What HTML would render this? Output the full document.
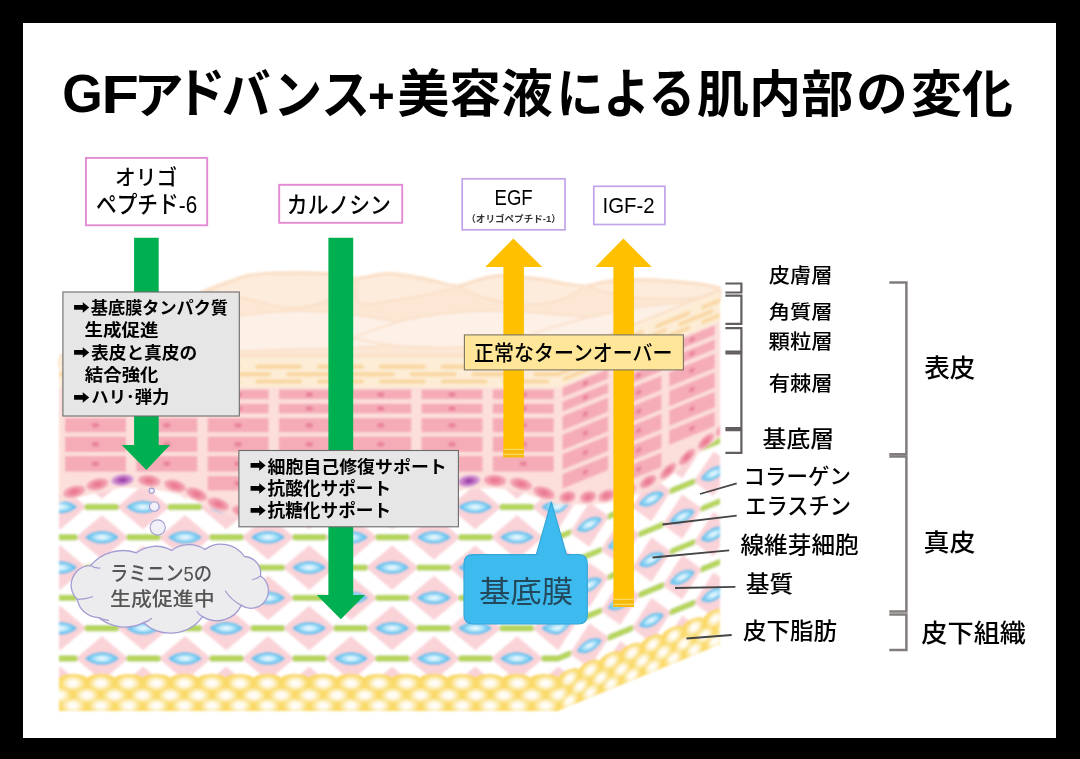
<!DOCTYPE html>
<html lang="ja">
<head>
<meta charset="utf-8">
<title>GFアドバンス+美容液による肌内部の変化</title>
<style>
html,body{margin:0;padding:0;background:#000}
body{width:1080px;height:759px;overflow:hidden}
svg{display:block}
text{font-family:"Liberation Sans","Noto Sans CJK JP",sans-serif;fill:#000}
.b{font-weight:bold}
</style>
</head>
<body>
<svg width="1080" height="759" viewBox="0 0 1080 759">
<defs>
<radialGradient id="lens" cx="0.5" cy="0.5" r="0.5"><stop offset="0" stop-color="#F4FBFF"/><stop offset="0.3" stop-color="#CDEEFC"/><stop offset="0.75" stop-color="#6FC8F0"/><stop offset="1" stop-color="#4FB2E6"/></radialGradient>
<radialGradient id="bc" cx="0.5" cy="0.5" r="0.5"><stop offset="0" stop-color="#E96C86"/><stop offset="0.5" stop-color="#EF8EA1"/><stop offset="1" stop-color="#F6B6C1"/></radialGradient>
<radialGradient id="bcp" cx="0.5" cy="0.5" r="0.5"><stop offset="0" stop-color="#8E2C9C"/><stop offset="0.45" stop-color="#B867BE"/><stop offset="1" stop-color="#E3B3DF"/></radialGradient>
<radialGradient id="fb" cx="0.5" cy="0.5" r="0.5"><stop offset="0" stop-color="#FFFFFF" stop-opacity="1"/><stop offset="0.35" stop-color="#FFFFFF" stop-opacity="0.9"/><stop offset="1" stop-color="#FFFFFF" stop-opacity="0"/></radialGradient>
<filter id="sb" x="-0.02" y="-0.02" width="1.04" height="1.04"><feGaussianBlur stdDeviation="0.8"/></filter>
<filter id="sb2" x="-0.02" y="-0.1" width="1.04" height="1.2"><feGaussianBlur stdDeviation="1.2"/></filter>
<clipPath id="cf"><rect x="59" y="340" width="499.5" height="371"/></clipPath>
<clipPath id="cs"><polygon points="558,340 720,273.6 720,644.6 558,711"/></clipPath>
<g id="skin"><rect x="40" y="358" width="760" height="34" fill="#FDEDD6"/><rect x="-115.6" y="364.4" width="47" height="4.6" rx="2.3" fill="#F9D8A4"/><rect x="-53.8" y="364.4" width="47" height="4.6" rx="2.3" fill="#F9D8A4"/><rect x="8" y="364.4" width="47" height="4.6" rx="2.3" fill="#F9D8A4"/><rect x="69.8" y="364.4" width="47" height="4.6" rx="2.3" fill="#F9D8A4"/><rect x="131.6" y="364.4" width="47" height="4.6" rx="2.3" fill="#F9D8A4"/><rect x="193.4" y="364.4" width="47" height="4.6" rx="2.3" fill="#F9D8A4"/><rect x="255.2" y="364.4" width="47" height="4.6" rx="2.3" fill="#F9D8A4"/><rect x="317" y="364.4" width="47" height="4.6" rx="2.3" fill="#F9D8A4"/><rect x="378.8" y="364.4" width="47" height="4.6" rx="2.3" fill="#F9D8A4"/><rect x="440.6" y="364.4" width="47" height="4.6" rx="2.3" fill="#F9D8A4"/><rect x="502.4" y="364.4" width="47" height="4.6" rx="2.3" fill="#F9D8A4"/><rect x="564.2" y="364.4" width="47" height="4.6" rx="2.3" fill="#F9D8A4"/><rect x="626" y="364.4" width="47" height="4.6" rx="2.3" fill="#F9D8A4"/><rect x="687.8" y="364.4" width="47" height="4.6" rx="2.3" fill="#F9D8A4"/><rect x="749.6" y="364.4" width="47" height="4.6" rx="2.3" fill="#F9D8A4"/><rect x="-84.7" y="371.9" width="47" height="4.6" rx="2.3" fill="#F9D8A4"/><rect x="-22.9" y="371.9" width="47" height="4.6" rx="2.3" fill="#F9D8A4"/><rect x="38.9" y="371.9" width="47" height="4.6" rx="2.3" fill="#F9D8A4"/><rect x="100.7" y="371.9" width="47" height="4.6" rx="2.3" fill="#F9D8A4"/><rect x="162.5" y="371.9" width="47" height="4.6" rx="2.3" fill="#F9D8A4"/><rect x="224.3" y="371.9" width="47" height="4.6" rx="2.3" fill="#F9D8A4"/><rect x="286.1" y="371.9" width="47" height="4.6" rx="2.3" fill="#F9D8A4"/><rect x="347.9" y="371.9" width="47" height="4.6" rx="2.3" fill="#F9D8A4"/><rect x="409.7" y="371.9" width="47" height="4.6" rx="2.3" fill="#F9D8A4"/><rect x="471.5" y="371.9" width="47" height="4.6" rx="2.3" fill="#F9D8A4"/><rect x="533.3" y="371.9" width="47" height="4.6" rx="2.3" fill="#F9D8A4"/><rect x="595.1" y="371.9" width="47" height="4.6" rx="2.3" fill="#F9D8A4"/><rect x="656.9" y="371.9" width="47" height="4.6" rx="2.3" fill="#F9D8A4"/><rect x="718.7" y="371.9" width="47" height="4.6" rx="2.3" fill="#F9D8A4"/><rect x="-115.6" y="379.2" width="47" height="4.6" rx="2.3" fill="#F9D8A4"/><rect x="-53.8" y="379.2" width="47" height="4.6" rx="2.3" fill="#F9D8A4"/><rect x="8" y="379.2" width="47" height="4.6" rx="2.3" fill="#F9D8A4"/><rect x="69.8" y="379.2" width="47" height="4.6" rx="2.3" fill="#F9D8A4"/><rect x="131.6" y="379.2" width="47" height="4.6" rx="2.3" fill="#F9D8A4"/><rect x="193.4" y="379.2" width="47" height="4.6" rx="2.3" fill="#F9D8A4"/><rect x="255.2" y="379.2" width="47" height="4.6" rx="2.3" fill="#F9D8A4"/><rect x="317" y="379.2" width="47" height="4.6" rx="2.3" fill="#F9D8A4"/><rect x="378.8" y="379.2" width="47" height="4.6" rx="2.3" fill="#F9D8A4"/><rect x="440.6" y="379.2" width="47" height="4.6" rx="2.3" fill="#F9D8A4"/><rect x="502.4" y="379.2" width="47" height="4.6" rx="2.3" fill="#F9D8A4"/><rect x="564.2" y="379.2" width="47" height="4.6" rx="2.3" fill="#F9D8A4"/><rect x="626" y="379.2" width="47" height="4.6" rx="2.3" fill="#F9D8A4"/><rect x="687.8" y="379.2" width="47" height="4.6" rx="2.3" fill="#F9D8A4"/><rect x="749.6" y="379.2" width="47" height="4.6" rx="2.3" fill="#F9D8A4"/><rect x="40" y="387.5" width="760" height="150" fill="#FCDFDA"/><rect x="-6.3" y="389.6" width="61" height="9.6" fill="#F5ACB7"/><ellipse cx="24.2" cy="394.4" rx="3.8" ry="2.5" fill="#E9849B"/><rect x="-6.3" y="403.7" width="61" height="9.7" fill="#F5ACB7"/><ellipse cx="24.2" cy="408.55" rx="3.8" ry="2.5" fill="#E9849B"/><rect x="-6.3" y="418" width="61" height="14.3" fill="#F5ACB7"/><ellipse cx="24.2" cy="425.15" rx="3.8" ry="2.5" fill="#E9849B"/><rect x="-6.3" y="436.6" width="61" height="15.4" fill="#F5ACB7"/><ellipse cx="24.2" cy="444.3" rx="3.8" ry="2.5" fill="#E9849B"/><rect x="-6.3" y="456" width="61" height="15.6" fill="#F5ACB7"/><ellipse cx="24.2" cy="463.8" rx="3.8" ry="2.5" fill="#E9849B"/><rect x="65" y="389.6" width="61" height="9.6" fill="#F5ACB7"/><ellipse cx="95.5" cy="394.4" rx="3.8" ry="2.5" fill="#E9849B"/><rect x="65" y="403.7" width="61" height="9.7" fill="#F5ACB7"/><ellipse cx="95.5" cy="408.55" rx="3.8" ry="2.5" fill="#E9849B"/><rect x="65" y="418" width="61" height="14.3" fill="#F5ACB7"/><ellipse cx="95.5" cy="425.15" rx="3.8" ry="2.5" fill="#E9849B"/><rect x="65" y="436.6" width="61" height="15.4" fill="#F5ACB7"/><ellipse cx="95.5" cy="444.3" rx="3.8" ry="2.5" fill="#E9849B"/><rect x="65" y="456" width="61" height="15.6" fill="#F5ACB7"/><ellipse cx="95.5" cy="463.8" rx="3.8" ry="2.5" fill="#E9849B"/><rect x="136.3" y="389.6" width="61" height="9.6" fill="#F5ACB7"/><ellipse cx="166.8" cy="394.4" rx="3.8" ry="2.5" fill="#E9849B"/><rect x="136.3" y="403.7" width="61" height="9.7" fill="#F5ACB7"/><ellipse cx="166.8" cy="408.55" rx="3.8" ry="2.5" fill="#E9849B"/><rect x="136.3" y="418" width="61" height="14.3" fill="#F5ACB7"/><ellipse cx="166.8" cy="425.15" rx="3.8" ry="2.5" fill="#E9849B"/><rect x="136.3" y="436.6" width="61" height="15.4" fill="#F5ACB7"/><ellipse cx="166.8" cy="444.3" rx="3.8" ry="2.5" fill="#E9849B"/><rect x="136.3" y="456" width="61" height="15.6" fill="#F5ACB7"/><ellipse cx="166.8" cy="463.8" rx="3.8" ry="2.5" fill="#E9849B"/><rect x="207.6" y="389.6" width="61" height="9.6" fill="#F5ACB7"/><ellipse cx="238.1" cy="394.4" rx="3.8" ry="2.5" fill="#E9849B"/><rect x="207.6" y="403.7" width="61" height="9.7" fill="#F5ACB7"/><ellipse cx="238.1" cy="408.55" rx="3.8" ry="2.5" fill="#E9849B"/><rect x="207.6" y="418" width="61" height="14.3" fill="#F5ACB7"/><ellipse cx="238.1" cy="425.15" rx="3.8" ry="2.5" fill="#E9849B"/><rect x="207.6" y="436.6" width="61" height="15.4" fill="#F5ACB7"/><ellipse cx="238.1" cy="444.3" rx="3.8" ry="2.5" fill="#E9849B"/><rect x="207.6" y="456" width="61" height="15.6" fill="#F5ACB7"/><ellipse cx="238.1" cy="463.8" rx="3.8" ry="2.5" fill="#E9849B"/><rect x="207.6" y="476" width="61" height="14.5" fill="#F5ACB7"/><ellipse cx="238.1" cy="483.25" rx="3.8" ry="2.5" fill="#E9849B"/><rect x="278.9" y="389.6" width="61" height="9.6" fill="#F5ACB7"/><ellipse cx="309.4" cy="394.4" rx="3.8" ry="2.5" fill="#E9849B"/><rect x="278.9" y="403.7" width="61" height="9.7" fill="#F5ACB7"/><ellipse cx="309.4" cy="408.55" rx="3.8" ry="2.5" fill="#E9849B"/><rect x="278.9" y="418" width="61" height="14.3" fill="#F5ACB7"/><ellipse cx="309.4" cy="425.15" rx="3.8" ry="2.5" fill="#E9849B"/><rect x="278.9" y="436.6" width="61" height="15.4" fill="#F5ACB7"/><ellipse cx="309.4" cy="444.3" rx="3.8" ry="2.5" fill="#E9849B"/><rect x="278.9" y="456" width="61" height="15.6" fill="#F5ACB7"/><ellipse cx="309.4" cy="463.8" rx="3.8" ry="2.5" fill="#E9849B"/><rect x="278.9" y="476" width="61" height="14.5" fill="#F5ACB7"/><ellipse cx="309.4" cy="483.25" rx="3.8" ry="2.5" fill="#E9849B"/><rect x="350.2" y="389.6" width="61" height="9.6" fill="#F5ACB7"/><ellipse cx="380.7" cy="394.4" rx="3.8" ry="2.5" fill="#E9849B"/><rect x="350.2" y="403.7" width="61" height="9.7" fill="#F5ACB7"/><ellipse cx="380.7" cy="408.55" rx="3.8" ry="2.5" fill="#E9849B"/><rect x="350.2" y="418" width="61" height="14.3" fill="#F5ACB7"/><ellipse cx="380.7" cy="425.15" rx="3.8" ry="2.5" fill="#E9849B"/><rect x="350.2" y="436.6" width="61" height="15.4" fill="#F5ACB7"/><ellipse cx="380.7" cy="444.3" rx="3.8" ry="2.5" fill="#E9849B"/><rect x="350.2" y="456" width="61" height="15.6" fill="#F5ACB7"/><ellipse cx="380.7" cy="463.8" rx="3.8" ry="2.5" fill="#E9849B"/><rect x="350.2" y="476" width="61" height="14.5" fill="#F5ACB7"/><ellipse cx="380.7" cy="483.25" rx="3.8" ry="2.5" fill="#E9849B"/><rect x="421.5" y="389.6" width="61" height="9.6" fill="#F5ACB7"/><ellipse cx="452" cy="394.4" rx="3.8" ry="2.5" fill="#E9849B"/><rect x="421.5" y="403.7" width="61" height="9.7" fill="#F5ACB7"/><ellipse cx="452" cy="408.55" rx="3.8" ry="2.5" fill="#E9849B"/><rect x="421.5" y="418" width="61" height="14.3" fill="#F5ACB7"/><ellipse cx="452" cy="425.15" rx="3.8" ry="2.5" fill="#E9849B"/><rect x="421.5" y="436.6" width="61" height="15.4" fill="#F5ACB7"/><ellipse cx="452" cy="444.3" rx="3.8" ry="2.5" fill="#E9849B"/><rect x="421.5" y="456" width="61" height="15.6" fill="#F5ACB7"/><ellipse cx="452" cy="463.8" rx="3.8" ry="2.5" fill="#E9849B"/><rect x="492.8" y="389.6" width="61" height="9.6" fill="#F5ACB7"/><ellipse cx="523.3" cy="394.4" rx="3.8" ry="2.5" fill="#E9849B"/><rect x="492.8" y="403.7" width="61" height="9.7" fill="#F5ACB7"/><ellipse cx="523.3" cy="408.55" rx="3.8" ry="2.5" fill="#E9849B"/><rect x="492.8" y="418" width="61" height="14.3" fill="#F5ACB7"/><ellipse cx="523.3" cy="425.15" rx="3.8" ry="2.5" fill="#E9849B"/><rect x="492.8" y="436.6" width="61" height="15.4" fill="#F5ACB7"/><ellipse cx="523.3" cy="444.3" rx="3.8" ry="2.5" fill="#E9849B"/><rect x="492.8" y="456" width="61" height="15.6" fill="#F5ACB7"/><ellipse cx="523.3" cy="463.8" rx="3.8" ry="2.5" fill="#E9849B"/><rect x="564.1" y="389.6" width="61" height="9.6" fill="#F5ACB7"/><ellipse cx="594.6" cy="394.4" rx="3.8" ry="2.5" fill="#E9849B"/><rect x="564.1" y="403.7" width="61" height="9.7" fill="#F5ACB7"/><ellipse cx="594.6" cy="408.55" rx="3.8" ry="2.5" fill="#E9849B"/><rect x="564.1" y="418" width="61" height="14.3" fill="#F5ACB7"/><ellipse cx="594.6" cy="425.15" rx="3.8" ry="2.5" fill="#E9849B"/><rect x="564.1" y="436.6" width="61" height="15.4" fill="#F5ACB7"/><ellipse cx="594.6" cy="444.3" rx="3.8" ry="2.5" fill="#E9849B"/><rect x="564.1" y="456" width="61" height="15.6" fill="#F5ACB7"/><ellipse cx="594.6" cy="463.8" rx="3.8" ry="2.5" fill="#E9849B"/><rect x="564.1" y="476" width="61" height="14.5" fill="#F5ACB7"/><ellipse cx="594.6" cy="483.25" rx="3.8" ry="2.5" fill="#E9849B"/><rect x="635.4" y="389.6" width="61" height="9.6" fill="#F5ACB7"/><ellipse cx="665.9" cy="394.4" rx="3.8" ry="2.5" fill="#E9849B"/><rect x="635.4" y="403.7" width="61" height="9.7" fill="#F5ACB7"/><ellipse cx="665.9" cy="408.55" rx="3.8" ry="2.5" fill="#E9849B"/><rect x="635.4" y="418" width="61" height="14.3" fill="#F5ACB7"/><ellipse cx="665.9" cy="425.15" rx="3.8" ry="2.5" fill="#E9849B"/><rect x="635.4" y="436.6" width="61" height="15.4" fill="#F5ACB7"/><ellipse cx="665.9" cy="444.3" rx="3.8" ry="2.5" fill="#E9849B"/><rect x="635.4" y="456" width="61" height="15.6" fill="#F5ACB7"/><ellipse cx="665.9" cy="463.8" rx="3.8" ry="2.5" fill="#E9849B"/><rect x="635.4" y="476" width="61" height="14.5" fill="#F5ACB7"/><ellipse cx="665.9" cy="483.25" rx="3.8" ry="2.5" fill="#E9849B"/><rect x="635.4" y="495" width="61" height="14.5" fill="#F5ACB7"/><ellipse cx="665.9" cy="502.25" rx="3.8" ry="2.5" fill="#E9849B"/><rect x="706.7" y="389.6" width="61" height="9.6" fill="#F5ACB7"/><ellipse cx="737.2" cy="394.4" rx="3.8" ry="2.5" fill="#E9849B"/><rect x="706.7" y="403.7" width="61" height="9.7" fill="#F5ACB7"/><ellipse cx="737.2" cy="408.55" rx="3.8" ry="2.5" fill="#E9849B"/><rect x="706.7" y="418" width="61" height="14.3" fill="#F5ACB7"/><ellipse cx="737.2" cy="425.15" rx="3.8" ry="2.5" fill="#E9849B"/><rect x="706.7" y="436.6" width="61" height="15.4" fill="#F5ACB7"/><ellipse cx="737.2" cy="444.3" rx="3.8" ry="2.5" fill="#E9849B"/><rect x="706.7" y="456" width="61" height="15.6" fill="#F5ACB7"/><ellipse cx="737.2" cy="463.8" rx="3.8" ry="2.5" fill="#E9849B"/><rect x="706.7" y="476" width="61" height="14.5" fill="#F5ACB7"/><ellipse cx="737.2" cy="483.25" rx="3.8" ry="2.5" fill="#E9849B"/><rect x="778" y="389.6" width="61" height="9.6" fill="#F5ACB7"/><ellipse cx="808.5" cy="394.4" rx="3.8" ry="2.5" fill="#E9849B"/><rect x="778" y="403.7" width="61" height="9.7" fill="#F5ACB7"/><ellipse cx="808.5" cy="408.55" rx="3.8" ry="2.5" fill="#E9849B"/><rect x="778" y="418" width="61" height="14.3" fill="#F5ACB7"/><ellipse cx="808.5" cy="425.15" rx="3.8" ry="2.5" fill="#E9849B"/><rect x="778" y="436.6" width="61" height="15.4" fill="#F5ACB7"/><ellipse cx="808.5" cy="444.3" rx="3.8" ry="2.5" fill="#E9849B"/><rect x="778" y="456" width="61" height="15.6" fill="#F5ACB7"/><ellipse cx="808.5" cy="463.8" rx="3.8" ry="2.5" fill="#E9849B"/><clipPath id="dclip"><polygon points="40,507.5 46,506 52,504.5 58,503 64,501.4 70,499.75 76,498.13 82,496.52 88,494.91 94,493.3 100,491.92 106,490.77 112,489.62 118,488.46 124,487.54 130,487.77 136,488 142,488.23 148,488.46 154,489.46 160,490.62 166,491.77 172,492.92 178,494.59 184,496.77 190,498.95 196,501.14 202,503.88 208,506.74 214,509.6 220,512.02 226,513.57 232,515.13 238,516.69 244,518.24 250,519.17 256,519.97 262,520.77 268,521.57 274,522.37 280,522.64 286,522.81 292,522.99 298,523.16 304,523.33 310,523.5 316,522.9 322,522.3 328,521.7 334,521.1 340,520.5 346,519.9 352,519.05 358,517.7 364,516.35 370,515 376,513.65 382,512.3 388,510.95 394,509.3 400,507.5 406,505.7 412,503.9 418,502.1 424,500.3 430,498.5 436,496.96 442,495.42 448,493.88 454,492.35 460,490.81 466,489.27 472,488.45 478,488.36 484,488.27 490,488.18 496,488.23 502,489.02 508,489.8 514,490.58 520,491.37 526,493.41 532,495.71 538,498 544,500.3 550,502.12 556,503.94 562,505.76 568,507.57 574,509.4 580,511.24 586,513.08 592,514.92 598,516.76 604,518.29 610,519.82 616,521.35 622,522.87 628,523.72 634,524.41 640,525.1 646,525.79 652,526.35 658,526.55 664,526.76 670,526.97 676,527.17 682,526.94 688,526.16 694,525.38 700,524.6 706,523.25 712,521.51 718,519.76 724,518.01 730,516.25 736,514.43 742,512.61 748,510.79 754,508.97 760,507.35 766,505.76 772,504.17 778,502.6 784,501.21 790,499.82 796,498.43 800,730 40,730"/></clipPath><polygon points="40,507.5 46,506 52,504.5 58,503 64,501.4 70,499.75 76,498.13 82,496.52 88,494.91 94,493.3 100,491.92 106,490.77 112,489.62 118,488.46 124,487.54 130,487.77 136,488 142,488.23 148,488.46 154,489.46 160,490.62 166,491.77 172,492.92 178,494.59 184,496.77 190,498.95 196,501.14 202,503.88 208,506.74 214,509.6 220,512.02 226,513.57 232,515.13 238,516.69 244,518.24 250,519.17 256,519.97 262,520.77 268,521.57 274,522.37 280,522.64 286,522.81 292,522.99 298,523.16 304,523.33 310,523.5 316,522.9 322,522.3 328,521.7 334,521.1 340,520.5 346,519.9 352,519.05 358,517.7 364,516.35 370,515 376,513.65 382,512.3 388,510.95 394,509.3 400,507.5 406,505.7 412,503.9 418,502.1 424,500.3 430,498.5 436,496.96 442,495.42 448,493.88 454,492.35 460,490.81 466,489.27 472,488.45 478,488.36 484,488.27 490,488.18 496,488.23 502,489.02 508,489.8 514,490.58 520,491.37 526,493.41 532,495.71 538,498 544,500.3 550,502.12 556,503.94 562,505.76 568,507.57 574,509.4 580,511.24 586,513.08 592,514.92 598,516.76 604,518.29 610,519.82 616,521.35 622,522.87 628,523.72 634,524.41 640,525.1 646,525.79 652,526.35 658,526.55 664,526.76 670,526.97 676,527.17 682,526.94 688,526.16 694,525.38 700,524.6 706,523.25 712,521.51 718,519.76 724,518.01 730,516.25 736,514.43 742,512.61 748,510.79 754,508.97 760,507.35 766,505.76 772,504.17 778,502.6 784,501.21 790,499.82 796,498.43 800,730 40,730" fill="#fff"/><g clip-path="url(#dclip)"><polygon points="-7.4,476.7 19,454.3 45.4,476.7 19,499.1" fill="#FAD3D8"/><polygon points="75.6,476.7 102,454.3 128.4,476.7 102,499.1" fill="#FAD3D8"/><polygon points="158.6,476.7 185,454.3 211.4,476.7 185,499.1" fill="#FAD3D8"/><polygon points="241.6,476.7 268,454.3 294.4,476.7 268,499.1" fill="#FAD3D8"/><polygon points="324.6,476.7 351,454.3 377.4,476.7 351,499.1" fill="#FAD3D8"/><polygon points="407.6,476.7 434,454.3 460.4,476.7 434,499.1" fill="#FAD3D8"/><polygon points="490.6,476.7 517,454.3 543.4,476.7 517,499.1" fill="#FAD3D8"/><polygon points="573.6,476.7 600,454.3 626.4,476.7 600,499.1" fill="#FAD3D8"/><polygon points="656.6,476.7 683,454.3 709.4,476.7 683,499.1" fill="#FAD3D8"/><polygon points="739.6,476.7 766,454.3 792.4,476.7 766,499.1" fill="#FAD3D8"/><polygon points="-49.2,507 -22.8,484.6 3.6,507 -22.8,529.4" fill="#FAD3D8"/><polygon points="33.8,507 60.2,484.6 86.6,507 60.2,529.4" fill="#FAD3D8"/><polygon points="116.8,507 143.2,484.6 169.6,507 143.2,529.4" fill="#FAD3D8"/><polygon points="199.8,507 226.2,484.6 252.6,507 226.2,529.4" fill="#FAD3D8"/><polygon points="282.8,507 309.2,484.6 335.6,507 309.2,529.4" fill="#FAD3D8"/><polygon points="365.8,507 392.2,484.6 418.6,507 392.2,529.4" fill="#FAD3D8"/><polygon points="448.8,507 475.2,484.6 501.6,507 475.2,529.4" fill="#FAD3D8"/><polygon points="531.8,507 558.2,484.6 584.6,507 558.2,529.4" fill="#FAD3D8"/><polygon points="614.8,507 641.2,484.6 667.6,507 641.2,529.4" fill="#FAD3D8"/><polygon points="697.8,507 724.2,484.6 750.6,507 724.2,529.4" fill="#FAD3D8"/><polygon points="780.8,507 807.2,484.6 833.6,507 807.2,529.4" fill="#FAD3D8"/><polygon points="-7.4,537.3 19,514.9 45.4,537.3 19,559.7" fill="#FAD3D8"/><polygon points="75.6,537.3 102,514.9 128.4,537.3 102,559.7" fill="#FAD3D8"/><polygon points="158.6,537.3 185,514.9 211.4,537.3 185,559.7" fill="#FAD3D8"/><polygon points="241.6,537.3 268,514.9 294.4,537.3 268,559.7" fill="#FAD3D8"/><polygon points="324.6,537.3 351,514.9 377.4,537.3 351,559.7" fill="#FAD3D8"/><polygon points="407.6,537.3 434,514.9 460.4,537.3 434,559.7" fill="#FAD3D8"/><polygon points="490.6,537.3 517,514.9 543.4,537.3 517,559.7" fill="#FAD3D8"/><polygon points="573.6,537.3 600,514.9 626.4,537.3 600,559.7" fill="#FAD3D8"/><polygon points="656.6,537.3 683,514.9 709.4,537.3 683,559.7" fill="#FAD3D8"/><polygon points="739.6,537.3 766,514.9 792.4,537.3 766,559.7" fill="#FAD3D8"/><polygon points="-49.2,567.6 -22.8,545.2 3.6,567.6 -22.8,590" fill="#FAD3D8"/><polygon points="33.8,567.6 60.2,545.2 86.6,567.6 60.2,590" fill="#FAD3D8"/><polygon points="116.8,567.6 143.2,545.2 169.6,567.6 143.2,590" fill="#FAD3D8"/><polygon points="199.8,567.6 226.2,545.2 252.6,567.6 226.2,590" fill="#FAD3D8"/><polygon points="282.8,567.6 309.2,545.2 335.6,567.6 309.2,590" fill="#FAD3D8"/><polygon points="365.8,567.6 392.2,545.2 418.6,567.6 392.2,590" fill="#FAD3D8"/><polygon points="448.8,567.6 475.2,545.2 501.6,567.6 475.2,590" fill="#FAD3D8"/><polygon points="531.8,567.6 558.2,545.2 584.6,567.6 558.2,590" fill="#FAD3D8"/><polygon points="614.8,567.6 641.2,545.2 667.6,567.6 641.2,590" fill="#FAD3D8"/><polygon points="697.8,567.6 724.2,545.2 750.6,567.6 724.2,590" fill="#FAD3D8"/><polygon points="780.8,567.6 807.2,545.2 833.6,567.6 807.2,590" fill="#FAD3D8"/><polygon points="-7.4,597.9 19,575.5 45.4,597.9 19,620.3" fill="#FAD3D8"/><polygon points="75.6,597.9 102,575.5 128.4,597.9 102,620.3" fill="#FAD3D8"/><polygon points="158.6,597.9 185,575.5 211.4,597.9 185,620.3" fill="#FAD3D8"/><polygon points="241.6,597.9 268,575.5 294.4,597.9 268,620.3" fill="#FAD3D8"/><polygon points="324.6,597.9 351,575.5 377.4,597.9 351,620.3" fill="#FAD3D8"/><polygon points="407.6,597.9 434,575.5 460.4,597.9 434,620.3" fill="#FAD3D8"/><polygon points="490.6,597.9 517,575.5 543.4,597.9 517,620.3" fill="#FAD3D8"/><polygon points="573.6,597.9 600,575.5 626.4,597.9 600,620.3" fill="#FAD3D8"/><polygon points="656.6,597.9 683,575.5 709.4,597.9 683,620.3" fill="#FAD3D8"/><polygon points="739.6,597.9 766,575.5 792.4,597.9 766,620.3" fill="#FAD3D8"/><polygon points="-49.2,628.2 -22.8,605.8 3.6,628.2 -22.8,650.6" fill="#FAD3D8"/><polygon points="33.8,628.2 60.2,605.8 86.6,628.2 60.2,650.6" fill="#FAD3D8"/><polygon points="116.8,628.2 143.2,605.8 169.6,628.2 143.2,650.6" fill="#FAD3D8"/><polygon points="199.8,628.2 226.2,605.8 252.6,628.2 226.2,650.6" fill="#FAD3D8"/><polygon points="282.8,628.2 309.2,605.8 335.6,628.2 309.2,650.6" fill="#FAD3D8"/><polygon points="365.8,628.2 392.2,605.8 418.6,628.2 392.2,650.6" fill="#FAD3D8"/><polygon points="448.8,628.2 475.2,605.8 501.6,628.2 475.2,650.6" fill="#FAD3D8"/><polygon points="531.8,628.2 558.2,605.8 584.6,628.2 558.2,650.6" fill="#FAD3D8"/><polygon points="614.8,628.2 641.2,605.8 667.6,628.2 641.2,650.6" fill="#FAD3D8"/><polygon points="697.8,628.2 724.2,605.8 750.6,628.2 724.2,650.6" fill="#FAD3D8"/><polygon points="780.8,628.2 807.2,605.8 833.6,628.2 807.2,650.6" fill="#FAD3D8"/><polygon points="-7.4,658.5 19,636.1 45.4,658.5 19,680.9" fill="#FAD3D8"/><polygon points="75.6,658.5 102,636.1 128.4,658.5 102,680.9" fill="#FAD3D8"/><polygon points="158.6,658.5 185,636.1 211.4,658.5 185,680.9" fill="#FAD3D8"/><polygon points="241.6,658.5 268,636.1 294.4,658.5 268,680.9" fill="#FAD3D8"/><polygon points="324.6,658.5 351,636.1 377.4,658.5 351,680.9" fill="#FAD3D8"/><polygon points="407.6,658.5 434,636.1 460.4,658.5 434,680.9" fill="#FAD3D8"/><polygon points="490.6,658.5 517,636.1 543.4,658.5 517,680.9" fill="#FAD3D8"/><polygon points="573.6,658.5 600,636.1 626.4,658.5 600,680.9" fill="#FAD3D8"/><polygon points="656.6,658.5 683,636.1 709.4,658.5 683,680.9" fill="#FAD3D8"/><polygon points="739.6,658.5 766,636.1 792.4,658.5 766,680.9" fill="#FAD3D8"/><polygon points="-49.2,688.8 -22.8,666.4 3.6,688.8 -22.8,711.2" fill="#FAD3D8"/><polygon points="33.8,688.8 60.2,666.4 86.6,688.8 60.2,711.2" fill="#FAD3D8"/><polygon points="116.8,688.8 143.2,666.4 169.6,688.8 143.2,711.2" fill="#FAD3D8"/><polygon points="199.8,688.8 226.2,666.4 252.6,688.8 226.2,711.2" fill="#FAD3D8"/><polygon points="282.8,688.8 309.2,666.4 335.6,688.8 309.2,711.2" fill="#FAD3D8"/><polygon points="365.8,688.8 392.2,666.4 418.6,688.8 392.2,711.2" fill="#FAD3D8"/><polygon points="448.8,688.8 475.2,666.4 501.6,688.8 475.2,711.2" fill="#FAD3D8"/><polygon points="531.8,688.8 558.2,666.4 584.6,688.8 558.2,711.2" fill="#FAD3D8"/><polygon points="614.8,688.8 641.2,666.4 667.6,688.8 641.2,711.2" fill="#FAD3D8"/><polygon points="697.8,688.8 724.2,666.4 750.6,688.8 724.2,711.2" fill="#FAD3D8"/><polygon points="780.8,688.8 807.2,666.4 833.6,688.8 807.2,711.2" fill="#FAD3D8"/><rect x="1.7" y="503.8" width="34" height="6.4" rx="2" fill="#B6D55C"/><rect x="84.7" y="503.8" width="34" height="6.4" rx="2" fill="#B6D55C"/><rect x="167.7" y="503.8" width="34" height="6.4" rx="2" fill="#B6D55C"/><rect x="250.7" y="503.8" width="34" height="6.4" rx="2" fill="#B6D55C"/><rect x="333.7" y="503.8" width="34" height="6.4" rx="2" fill="#B6D55C"/><rect x="416.7" y="503.8" width="34" height="6.4" rx="2" fill="#B6D55C"/><rect x="499.7" y="503.8" width="34" height="6.4" rx="2" fill="#B6D55C"/><rect x="582.7" y="503.8" width="34" height="6.4" rx="2" fill="#B6D55C"/><rect x="665.7" y="503.8" width="34" height="6.4" rx="2" fill="#B6D55C"/><rect x="748.7" y="503.8" width="34" height="6.4" rx="2" fill="#B6D55C"/><rect x="831.7" y="503.8" width="34" height="6.4" rx="2" fill="#B6D55C"/><rect x="43.5" y="534.1" width="34" height="6.4" rx="2" fill="#B6D55C"/><rect x="126.5" y="534.1" width="34" height="6.4" rx="2" fill="#B6D55C"/><rect x="209.5" y="534.1" width="34" height="6.4" rx="2" fill="#B6D55C"/><rect x="292.5" y="534.1" width="34" height="6.4" rx="2" fill="#B6D55C"/><rect x="375.5" y="534.1" width="34" height="6.4" rx="2" fill="#B6D55C"/><rect x="458.5" y="534.1" width="34" height="6.4" rx="2" fill="#B6D55C"/><rect x="541.5" y="534.1" width="34" height="6.4" rx="2" fill="#B6D55C"/><rect x="624.5" y="534.1" width="34" height="6.4" rx="2" fill="#B6D55C"/><rect x="707.5" y="534.1" width="34" height="6.4" rx="2" fill="#B6D55C"/><rect x="790.5" y="534.1" width="34" height="6.4" rx="2" fill="#B6D55C"/><rect x="1.7" y="564.4" width="34" height="6.4" rx="2" fill="#B6D55C"/><rect x="84.7" y="564.4" width="34" height="6.4" rx="2" fill="#B6D55C"/><rect x="167.7" y="564.4" width="34" height="6.4" rx="2" fill="#B6D55C"/><rect x="250.7" y="564.4" width="34" height="6.4" rx="2" fill="#B6D55C"/><rect x="333.7" y="564.4" width="34" height="6.4" rx="2" fill="#B6D55C"/><rect x="416.7" y="564.4" width="34" height="6.4" rx="2" fill="#B6D55C"/><rect x="499.7" y="564.4" width="34" height="6.4" rx="2" fill="#B6D55C"/><rect x="582.7" y="564.4" width="34" height="6.4" rx="2" fill="#B6D55C"/><rect x="665.7" y="564.4" width="34" height="6.4" rx="2" fill="#B6D55C"/><rect x="748.7" y="564.4" width="34" height="6.4" rx="2" fill="#B6D55C"/><rect x="831.7" y="564.4" width="34" height="6.4" rx="2" fill="#B6D55C"/><rect x="43.5" y="594.7" width="34" height="6.4" rx="2" fill="#B6D55C"/><rect x="126.5" y="594.7" width="34" height="6.4" rx="2" fill="#B6D55C"/><rect x="209.5" y="594.7" width="34" height="6.4" rx="2" fill="#B6D55C"/><rect x="292.5" y="594.7" width="34" height="6.4" rx="2" fill="#B6D55C"/><rect x="375.5" y="594.7" width="34" height="6.4" rx="2" fill="#B6D55C"/><rect x="458.5" y="594.7" width="34" height="6.4" rx="2" fill="#B6D55C"/><rect x="541.5" y="594.7" width="34" height="6.4" rx="2" fill="#B6D55C"/><rect x="624.5" y="594.7" width="34" height="6.4" rx="2" fill="#B6D55C"/><rect x="707.5" y="594.7" width="34" height="6.4" rx="2" fill="#B6D55C"/><rect x="790.5" y="594.7" width="34" height="6.4" rx="2" fill="#B6D55C"/><rect x="1.7" y="625" width="34" height="6.4" rx="2" fill="#B6D55C"/><rect x="84.7" y="625" width="34" height="6.4" rx="2" fill="#B6D55C"/><rect x="167.7" y="625" width="34" height="6.4" rx="2" fill="#B6D55C"/><rect x="250.7" y="625" width="34" height="6.4" rx="2" fill="#B6D55C"/><rect x="333.7" y="625" width="34" height="6.4" rx="2" fill="#B6D55C"/><rect x="416.7" y="625" width="34" height="6.4" rx="2" fill="#B6D55C"/><rect x="499.7" y="625" width="34" height="6.4" rx="2" fill="#B6D55C"/><rect x="582.7" y="625" width="34" height="6.4" rx="2" fill="#B6D55C"/><rect x="665.7" y="625" width="34" height="6.4" rx="2" fill="#B6D55C"/><rect x="748.7" y="625" width="34" height="6.4" rx="2" fill="#B6D55C"/><rect x="831.7" y="625" width="34" height="6.4" rx="2" fill="#B6D55C"/><rect x="43.5" y="655.3" width="34" height="6.4" rx="2" fill="#B6D55C"/><rect x="126.5" y="655.3" width="34" height="6.4" rx="2" fill="#B6D55C"/><rect x="209.5" y="655.3" width="34" height="6.4" rx="2" fill="#B6D55C"/><rect x="292.5" y="655.3" width="34" height="6.4" rx="2" fill="#B6D55C"/><rect x="375.5" y="655.3" width="34" height="6.4" rx="2" fill="#B6D55C"/><rect x="458.5" y="655.3" width="34" height="6.4" rx="2" fill="#B6D55C"/><rect x="541.5" y="655.3" width="34" height="6.4" rx="2" fill="#B6D55C"/><rect x="624.5" y="655.3" width="34" height="6.4" rx="2" fill="#B6D55C"/><rect x="707.5" y="655.3" width="34" height="6.4" rx="2" fill="#B6D55C"/><rect x="790.5" y="655.3" width="34" height="6.4" rx="2" fill="#B6D55C"/><path d="M-39.6 507 C-31.8 498.6 -13.8 498.6 -6 507 C-13.8 515.4 -31.8 515.4 -39.6 507 Z" fill="url(#lens)"/><path d="M43.4 507 C51.2 498.6 69.2 498.6 77 507 C69.2 515.4 51.2 515.4 43.4 507 Z" fill="url(#lens)"/><path d="M126.4 507 C134.2 498.6 152.2 498.6 160 507 C152.2 515.4 134.2 515.4 126.4 507 Z" fill="url(#lens)"/><path d="M209.4 507 C217.2 498.6 235.2 498.6 243 507 C235.2 515.4 217.2 515.4 209.4 507 Z" fill="url(#lens)"/><path d="M292.4 507 C300.2 498.6 318.2 498.6 326 507 C318.2 515.4 300.2 515.4 292.4 507 Z" fill="url(#lens)"/><path d="M375.4 507 C383.2 498.6 401.2 498.6 409 507 C401.2 515.4 383.2 515.4 375.4 507 Z" fill="url(#lens)"/><path d="M458.4 507 C466.2 498.6 484.2 498.6 492 507 C484.2 515.4 466.2 515.4 458.4 507 Z" fill="url(#lens)"/><path d="M541.4 507 C549.2 498.6 567.2 498.6 575 507 C567.2 515.4 549.2 515.4 541.4 507 Z" fill="url(#lens)"/><path d="M624.4 507 C632.2 498.6 650.2 498.6 658 507 C650.2 515.4 632.2 515.4 624.4 507 Z" fill="url(#lens)"/><path d="M707.4 507 C715.2 498.6 733.2 498.6 741 507 C733.2 515.4 715.2 515.4 707.4 507 Z" fill="url(#lens)"/><path d="M790.4 507 C798.2 498.6 816.2 498.6 824 507 C816.2 515.4 798.2 515.4 790.4 507 Z" fill="url(#lens)"/><path d="M2.2 537.3 C10 528.9 28 528.9 35.8 537.3 C28 545.7 10 545.7 2.2 537.3 Z" fill="url(#lens)"/><path d="M85.2 537.3 C93 528.9 111 528.9 118.8 537.3 C111 545.7 93 545.7 85.2 537.3 Z" fill="url(#lens)"/><path d="M168.2 537.3 C176 528.9 194 528.9 201.8 537.3 C194 545.7 176 545.7 168.2 537.3 Z" fill="url(#lens)"/><path d="M251.2 537.3 C259 528.9 277 528.9 284.8 537.3 C277 545.7 259 545.7 251.2 537.3 Z" fill="url(#lens)"/><path d="M334.2 537.3 C342 528.9 360 528.9 367.8 537.3 C360 545.7 342 545.7 334.2 537.3 Z" fill="url(#lens)"/><path d="M417.2 537.3 C425 528.9 443 528.9 450.8 537.3 C443 545.7 425 545.7 417.2 537.3 Z" fill="url(#lens)"/><path d="M500.2 537.3 C508 528.9 526 528.9 533.8 537.3 C526 545.7 508 545.7 500.2 537.3 Z" fill="url(#lens)"/><path d="M583.2 537.3 C591 528.9 609 528.9 616.8 537.3 C609 545.7 591 545.7 583.2 537.3 Z" fill="url(#lens)"/><path d="M666.2 537.3 C674 528.9 692 528.9 699.8 537.3 C692 545.7 674 545.7 666.2 537.3 Z" fill="url(#lens)"/><path d="M749.2 537.3 C757 528.9 775 528.9 782.8 537.3 C775 545.7 757 545.7 749.2 537.3 Z" fill="url(#lens)"/><path d="M-39.6 567.6 C-31.8 559.2 -13.8 559.2 -6 567.6 C-13.8 576 -31.8 576 -39.6 567.6 Z" fill="url(#lens)"/><path d="M43.4 567.6 C51.2 559.2 69.2 559.2 77 567.6 C69.2 576 51.2 576 43.4 567.6 Z" fill="url(#lens)"/><path d="M126.4 567.6 C134.2 559.2 152.2 559.2 160 567.6 C152.2 576 134.2 576 126.4 567.6 Z" fill="url(#lens)"/><path d="M209.4 567.6 C217.2 559.2 235.2 559.2 243 567.6 C235.2 576 217.2 576 209.4 567.6 Z" fill="url(#lens)"/><path d="M292.4 567.6 C300.2 559.2 318.2 559.2 326 567.6 C318.2 576 300.2 576 292.4 567.6 Z" fill="url(#lens)"/><path d="M375.4 567.6 C383.2 559.2 401.2 559.2 409 567.6 C401.2 576 383.2 576 375.4 567.6 Z" fill="url(#lens)"/><path d="M458.4 567.6 C466.2 559.2 484.2 559.2 492 567.6 C484.2 576 466.2 576 458.4 567.6 Z" fill="url(#lens)"/><path d="M541.4 567.6 C549.2 559.2 567.2 559.2 575 567.6 C567.2 576 549.2 576 541.4 567.6 Z" fill="url(#lens)"/><path d="M624.4 567.6 C632.2 559.2 650.2 559.2 658 567.6 C650.2 576 632.2 576 624.4 567.6 Z" fill="url(#lens)"/><path d="M707.4 567.6 C715.2 559.2 733.2 559.2 741 567.6 C733.2 576 715.2 576 707.4 567.6 Z" fill="url(#lens)"/><path d="M790.4 567.6 C798.2 559.2 816.2 559.2 824 567.6 C816.2 576 798.2 576 790.4 567.6 Z" fill="url(#lens)"/><path d="M2.2 597.9 C10 589.5 28 589.5 35.8 597.9 C28 606.3 10 606.3 2.2 597.9 Z" fill="url(#lens)"/><path d="M85.2 597.9 C93 589.5 111 589.5 118.8 597.9 C111 606.3 93 606.3 85.2 597.9 Z" fill="url(#lens)"/><path d="M168.2 597.9 C176 589.5 194 589.5 201.8 597.9 C194 606.3 176 606.3 168.2 597.9 Z" fill="url(#lens)"/><path d="M251.2 597.9 C259 589.5 277 589.5 284.8 597.9 C277 606.3 259 606.3 251.2 597.9 Z" fill="url(#lens)"/><path d="M334.2 597.9 C342 589.5 360 589.5 367.8 597.9 C360 606.3 342 606.3 334.2 597.9 Z" fill="url(#lens)"/><path d="M417.2 597.9 C425 589.5 443 589.5 450.8 597.9 C443 606.3 425 606.3 417.2 597.9 Z" fill="url(#lens)"/><path d="M500.2 597.9 C508 589.5 526 589.5 533.8 597.9 C526 606.3 508 606.3 500.2 597.9 Z" fill="url(#lens)"/><path d="M583.2 597.9 C591 589.5 609 589.5 616.8 597.9 C609 606.3 591 606.3 583.2 597.9 Z" fill="url(#lens)"/><path d="M666.2 597.9 C674 589.5 692 589.5 699.8 597.9 C692 606.3 674 606.3 666.2 597.9 Z" fill="url(#lens)"/><path d="M749.2 597.9 C757 589.5 775 589.5 782.8 597.9 C775 606.3 757 606.3 749.2 597.9 Z" fill="url(#lens)"/><path d="M-39.6 628.2 C-31.8 619.8 -13.8 619.8 -6 628.2 C-13.8 636.6 -31.8 636.6 -39.6 628.2 Z" fill="url(#lens)"/><path d="M43.4 628.2 C51.2 619.8 69.2 619.8 77 628.2 C69.2 636.6 51.2 636.6 43.4 628.2 Z" fill="url(#lens)"/><path d="M126.4 628.2 C134.2 619.8 152.2 619.8 160 628.2 C152.2 636.6 134.2 636.6 126.4 628.2 Z" fill="url(#lens)"/><path d="M209.4 628.2 C217.2 619.8 235.2 619.8 243 628.2 C235.2 636.6 217.2 636.6 209.4 628.2 Z" fill="url(#lens)"/><path d="M292.4 628.2 C300.2 619.8 318.2 619.8 326 628.2 C318.2 636.6 300.2 636.6 292.4 628.2 Z" fill="url(#lens)"/><path d="M375.4 628.2 C383.2 619.8 401.2 619.8 409 628.2 C401.2 636.6 383.2 636.6 375.4 628.2 Z" fill="url(#lens)"/><path d="M458.4 628.2 C466.2 619.8 484.2 619.8 492 628.2 C484.2 636.6 466.2 636.6 458.4 628.2 Z" fill="url(#lens)"/><path d="M541.4 628.2 C549.2 619.8 567.2 619.8 575 628.2 C567.2 636.6 549.2 636.6 541.4 628.2 Z" fill="url(#lens)"/><path d="M624.4 628.2 C632.2 619.8 650.2 619.8 658 628.2 C650.2 636.6 632.2 636.6 624.4 628.2 Z" fill="url(#lens)"/><path d="M707.4 628.2 C715.2 619.8 733.2 619.8 741 628.2 C733.2 636.6 715.2 636.6 707.4 628.2 Z" fill="url(#lens)"/><path d="M790.4 628.2 C798.2 619.8 816.2 619.8 824 628.2 C816.2 636.6 798.2 636.6 790.4 628.2 Z" fill="url(#lens)"/><path d="M2.2 658.5 C10 650.1 28 650.1 35.8 658.5 C28 666.9 10 666.9 2.2 658.5 Z" fill="url(#lens)"/><path d="M85.2 658.5 C93 650.1 111 650.1 118.8 658.5 C111 666.9 93 666.9 85.2 658.5 Z" fill="url(#lens)"/><path d="M168.2 658.5 C176 650.1 194 650.1 201.8 658.5 C194 666.9 176 666.9 168.2 658.5 Z" fill="url(#lens)"/><path d="M251.2 658.5 C259 650.1 277 650.1 284.8 658.5 C277 666.9 259 666.9 251.2 658.5 Z" fill="url(#lens)"/><path d="M334.2 658.5 C342 650.1 360 650.1 367.8 658.5 C360 666.9 342 666.9 334.2 658.5 Z" fill="url(#lens)"/><path d="M417.2 658.5 C425 650.1 443 650.1 450.8 658.5 C443 666.9 425 666.9 417.2 658.5 Z" fill="url(#lens)"/><path d="M500.2 658.5 C508 650.1 526 650.1 533.8 658.5 C526 666.9 508 666.9 500.2 658.5 Z" fill="url(#lens)"/><path d="M583.2 658.5 C591 650.1 609 650.1 616.8 658.5 C609 666.9 591 666.9 583.2 658.5 Z" fill="url(#lens)"/><path d="M666.2 658.5 C674 650.1 692 650.1 699.8 658.5 C692 666.9 674 666.9 666.2 658.5 Z" fill="url(#lens)"/><path d="M749.2 658.5 C757 650.1 775 650.1 782.8 658.5 C775 666.9 757 666.9 749.2 658.5 Z" fill="url(#lens)"/></g><ellipse cx="48.5" cy="498" rx="11.6" ry="6" transform="rotate(-14.04 48.5 498)" fill="url(#bc)"/><ellipse cx="74.2" cy="491.7" rx="11.6" ry="6" transform="rotate(-15 74.2 491.7)" fill="url(#bc)"/><ellipse cx="97.5" cy="484.4" rx="11.6" ry="6" transform="rotate(-12.45 97.5 484.4)" fill="url(#bc)"/><ellipse cx="122.5" cy="480" rx="11.6" ry="6" transform="rotate(-6.04 122.5 480)" fill="url(#bcp)"/><ellipse cx="149.2" cy="480.8" rx="11.6" ry="6" transform="rotate(7.02 149.2 480.8)" fill="url(#bc)"/><ellipse cx="175" cy="485.8" rx="11.6" ry="6" transform="rotate(15.53 175 485.8)" fill="url(#bc)"/><ellipse cx="196.7" cy="494.2" rx="11.6" ry="6" transform="rotate(22.37 196.7 494.2)" fill="url(#bc)"/><ellipse cx="218.3" cy="504.2" rx="11.6" ry="6" transform="rotate(19.36 218.3 504.2)" fill="url(#bc)"/><ellipse cx="243" cy="511.5" rx="11.6" ry="6" transform="rotate(14.53 243 511.5)" fill="url(#bc)"/><ellipse cx="268.5" cy="514.8" rx="11.6" ry="6" transform="rotate(7.59 268.5 514.8)" fill="url(#bc)"/><ellipse cx="294" cy="516" rx="11.6" ry="6" transform="rotate(1.64 294 516)" fill="url(#bc)"/><ellipse cx="319.5" cy="515.6" rx="11.6" ry="6" transform="rotate(-5.71 319.5 515.6)" fill="url(#bc)"/><ellipse cx="345" cy="513" rx="11.6" ry="6" transform="rotate(-5.71 345 513)" fill="url(#bc)"/><ellipse cx="370" cy="508" rx="11.6" ry="6" transform="rotate(-12.68 370 508)" fill="url(#bc)"/><ellipse cx="394.5" cy="501.5" rx="11.6" ry="6" transform="rotate(-16.7 394.5 501.5)" fill="url(#bc)"/><ellipse cx="419" cy="494.5" rx="11.6" ry="6" transform="rotate(-16.7 419 494.5)" fill="url(#bc)"/><ellipse cx="444" cy="487" rx="11.6" ry="6" transform="rotate(-14.38 444 487)" fill="url(#bc)"/><ellipse cx="469" cy="481" rx="11.6" ry="6" transform="rotate(-7.74 469 481)" fill="url(#bcp)"/><ellipse cx="495" cy="480.6" rx="11.6" ry="6" transform="rotate(3.3 495 480.6)" fill="url(#bc)"/><ellipse cx="521" cy="484" rx="11.6" ry="6" transform="rotate(14.4 521 484)" fill="url(#bc)"/><ellipse cx="544" cy="492.8" rx="11.6" ry="6" transform="rotate(18.92 544 492.8)" fill="url(#bc)"/><ellipse cx="570.71" cy="500.89" rx="11.6" ry="6" transform="rotate(16.95 570.71 500.89)" fill="url(#bc)"/><ellipse cx="598.13" cy="509.3" rx="11.6" ry="6" transform="rotate(15.67 598.13 509.3)" fill="url(#bc)"/><ellipse cx="623.15" cy="515.67" rx="11.6" ry="6" transform="rotate(10.47 623.15 515.67)" fill="url(#bc)"/><ellipse cx="650.98" cy="518.79" rx="11.6" ry="6" transform="rotate(3.5 650.98 518.79)" fill="url(#bc)"/><ellipse cx="678.4" cy="518.6" rx="11.6" ry="6" transform="rotate(-0.53 678.4 518.6)" fill="url(#bc)"/><ellipse cx="705.16" cy="516.1" rx="11.6" ry="6" transform="rotate(-16.25 705.16 516.1)" fill="url(#bc)"/><ellipse cx="730.58" cy="509.89" rx="11.6" ry="6" transform="rotate(-16.77 730.58 509.89)" fill="url(#bc)"/><ellipse cx="755.99" cy="502.08" rx="11.6" ry="6" transform="rotate(-15.19 755.99 502.08)" fill="url(#bc)"/><ellipse cx="780.07" cy="496.06" rx="11.6" ry="6" transform="rotate(-13.05 780.07 496.06)" fill="url(#bc)"/><rect x="40" y="678.5" width="760" height="32.5" fill="#FAD966"/><ellipse cx="17.9" cy="679" rx="14.2" ry="5.2" fill="#FAD966"/><ellipse cx="45.6" cy="679" rx="14.2" ry="5.2" fill="#FAD966"/><ellipse cx="73.3" cy="679" rx="14.2" ry="5.2" fill="#FAD966"/><ellipse cx="101" cy="679" rx="14.2" ry="5.2" fill="#FAD966"/><ellipse cx="128.7" cy="679" rx="14.2" ry="5.2" fill="#FAD966"/><ellipse cx="156.4" cy="679" rx="14.2" ry="5.2" fill="#FAD966"/><ellipse cx="184.1" cy="679" rx="14.2" ry="5.2" fill="#FAD966"/><ellipse cx="211.8" cy="679" rx="14.2" ry="5.2" fill="#FAD966"/><ellipse cx="239.5" cy="679" rx="14.2" ry="5.2" fill="#FAD966"/><ellipse cx="267.2" cy="679" rx="14.2" ry="5.2" fill="#FAD966"/><ellipse cx="294.9" cy="679" rx="14.2" ry="5.2" fill="#FAD966"/><ellipse cx="322.6" cy="679" rx="14.2" ry="5.2" fill="#FAD966"/><ellipse cx="350.3" cy="679" rx="14.2" ry="5.2" fill="#FAD966"/><ellipse cx="378" cy="679" rx="14.2" ry="5.2" fill="#FAD966"/><ellipse cx="405.7" cy="679" rx="14.2" ry="5.2" fill="#FAD966"/><ellipse cx="433.4" cy="679" rx="14.2" ry="5.2" fill="#FAD966"/><ellipse cx="461.1" cy="679" rx="14.2" ry="5.2" fill="#FAD966"/><ellipse cx="488.8" cy="679" rx="14.2" ry="5.2" fill="#FAD966"/><ellipse cx="516.5" cy="679" rx="14.2" ry="5.2" fill="#FAD966"/><ellipse cx="544.2" cy="679" rx="14.2" ry="5.2" fill="#FAD966"/><ellipse cx="571.9" cy="679" rx="14.2" ry="5.2" fill="#FAD966"/><ellipse cx="599.6" cy="679" rx="14.2" ry="5.2" fill="#FAD966"/><ellipse cx="627.3" cy="679" rx="14.2" ry="5.2" fill="#FAD966"/><ellipse cx="655" cy="679" rx="14.2" ry="5.2" fill="#FAD966"/><ellipse cx="682.7" cy="679" rx="14.2" ry="5.2" fill="#FAD966"/><ellipse cx="710.4" cy="679" rx="14.2" ry="5.2" fill="#FAD966"/><ellipse cx="738.1" cy="679" rx="14.2" ry="5.2" fill="#FAD966"/><ellipse cx="765.8" cy="679" rx="14.2" ry="5.2" fill="#FAD966"/><ellipse cx="793.5" cy="679" rx="14.2" ry="5.2" fill="#FAD966"/><ellipse cx="17.4" cy="683.3" rx="12.5" ry="8.2" fill="url(#fb)"/><ellipse cx="45.2" cy="683.3" rx="12.5" ry="8.2" fill="url(#fb)"/><ellipse cx="73" cy="683.3" rx="12.5" ry="8.2" fill="url(#fb)"/><ellipse cx="100.8" cy="683.3" rx="12.5" ry="8.2" fill="url(#fb)"/><ellipse cx="128.6" cy="683.3" rx="12.5" ry="8.2" fill="url(#fb)"/><ellipse cx="156.4" cy="683.3" rx="12.5" ry="8.2" fill="url(#fb)"/><ellipse cx="184.2" cy="683.3" rx="12.5" ry="8.2" fill="url(#fb)"/><ellipse cx="212" cy="683.3" rx="12.5" ry="8.2" fill="url(#fb)"/><ellipse cx="239.8" cy="683.3" rx="12.5" ry="8.2" fill="url(#fb)"/><ellipse cx="267.6" cy="683.3" rx="12.5" ry="8.2" fill="url(#fb)"/><ellipse cx="295.4" cy="683.3" rx="12.5" ry="8.2" fill="url(#fb)"/><ellipse cx="323.2" cy="683.3" rx="12.5" ry="8.2" fill="url(#fb)"/><ellipse cx="351" cy="683.3" rx="12.5" ry="8.2" fill="url(#fb)"/><ellipse cx="378.8" cy="683.3" rx="12.5" ry="8.2" fill="url(#fb)"/><ellipse cx="406.6" cy="683.3" rx="12.5" ry="8.2" fill="url(#fb)"/><ellipse cx="434.4" cy="683.3" rx="12.5" ry="8.2" fill="url(#fb)"/><ellipse cx="462.2" cy="683.3" rx="12.5" ry="8.2" fill="url(#fb)"/><ellipse cx="490" cy="683.3" rx="12.5" ry="8.2" fill="url(#fb)"/><ellipse cx="517.8" cy="683.3" rx="12.5" ry="8.2" fill="url(#fb)"/><ellipse cx="545.6" cy="683.3" rx="12.5" ry="8.2" fill="url(#fb)"/><ellipse cx="573.4" cy="683.3" rx="12.5" ry="8.2" fill="url(#fb)"/><ellipse cx="601.2" cy="683.3" rx="12.5" ry="8.2" fill="url(#fb)"/><ellipse cx="629" cy="683.3" rx="12.5" ry="8.2" fill="url(#fb)"/><ellipse cx="656.8" cy="683.3" rx="12.5" ry="8.2" fill="url(#fb)"/><ellipse cx="684.6" cy="683.3" rx="12.5" ry="8.2" fill="url(#fb)"/><ellipse cx="712.4" cy="683.3" rx="12.5" ry="8.2" fill="url(#fb)"/><ellipse cx="740.2" cy="683.3" rx="12.5" ry="8.2" fill="url(#fb)"/><ellipse cx="768" cy="683.3" rx="12.5" ry="8.2" fill="url(#fb)"/><ellipse cx="795.8" cy="683.3" rx="12.5" ry="8.2" fill="url(#fb)"/><ellipse cx="31.3" cy="695.3" rx="12.5" ry="8.2" fill="url(#fb)"/><ellipse cx="59.1" cy="695.3" rx="12.5" ry="8.2" fill="url(#fb)"/><ellipse cx="86.9" cy="695.3" rx="12.5" ry="8.2" fill="url(#fb)"/><ellipse cx="114.7" cy="695.3" rx="12.5" ry="8.2" fill="url(#fb)"/><ellipse cx="142.5" cy="695.3" rx="12.5" ry="8.2" fill="url(#fb)"/><ellipse cx="170.3" cy="695.3" rx="12.5" ry="8.2" fill="url(#fb)"/><ellipse cx="198.1" cy="695.3" rx="12.5" ry="8.2" fill="url(#fb)"/><ellipse cx="225.9" cy="695.3" rx="12.5" ry="8.2" fill="url(#fb)"/><ellipse cx="253.7" cy="695.3" rx="12.5" ry="8.2" fill="url(#fb)"/><ellipse cx="281.5" cy="695.3" rx="12.5" ry="8.2" fill="url(#fb)"/><ellipse cx="309.3" cy="695.3" rx="12.5" ry="8.2" fill="url(#fb)"/><ellipse cx="337.1" cy="695.3" rx="12.5" ry="8.2" fill="url(#fb)"/><ellipse cx="364.9" cy="695.3" rx="12.5" ry="8.2" fill="url(#fb)"/><ellipse cx="392.7" cy="695.3" rx="12.5" ry="8.2" fill="url(#fb)"/><ellipse cx="420.5" cy="695.3" rx="12.5" ry="8.2" fill="url(#fb)"/><ellipse cx="448.3" cy="695.3" rx="12.5" ry="8.2" fill="url(#fb)"/><ellipse cx="476.1" cy="695.3" rx="12.5" ry="8.2" fill="url(#fb)"/><ellipse cx="503.9" cy="695.3" rx="12.5" ry="8.2" fill="url(#fb)"/><ellipse cx="531.7" cy="695.3" rx="12.5" ry="8.2" fill="url(#fb)"/><ellipse cx="559.5" cy="695.3" rx="12.5" ry="8.2" fill="url(#fb)"/><ellipse cx="587.3" cy="695.3" rx="12.5" ry="8.2" fill="url(#fb)"/><ellipse cx="615.1" cy="695.3" rx="12.5" ry="8.2" fill="url(#fb)"/><ellipse cx="642.9" cy="695.3" rx="12.5" ry="8.2" fill="url(#fb)"/><ellipse cx="670.7" cy="695.3" rx="12.5" ry="8.2" fill="url(#fb)"/><ellipse cx="698.5" cy="695.3" rx="12.5" ry="8.2" fill="url(#fb)"/><ellipse cx="726.3" cy="695.3" rx="12.5" ry="8.2" fill="url(#fb)"/><ellipse cx="754.1" cy="695.3" rx="12.5" ry="8.2" fill="url(#fb)"/><ellipse cx="781.9" cy="695.3" rx="12.5" ry="8.2" fill="url(#fb)"/><ellipse cx="17.4" cy="705.6" rx="12.5" ry="8.2" fill="url(#fb)"/><ellipse cx="45.2" cy="705.6" rx="12.5" ry="8.2" fill="url(#fb)"/><ellipse cx="73" cy="705.6" rx="12.5" ry="8.2" fill="url(#fb)"/><ellipse cx="100.8" cy="705.6" rx="12.5" ry="8.2" fill="url(#fb)"/><ellipse cx="128.6" cy="705.6" rx="12.5" ry="8.2" fill="url(#fb)"/><ellipse cx="156.4" cy="705.6" rx="12.5" ry="8.2" fill="url(#fb)"/><ellipse cx="184.2" cy="705.6" rx="12.5" ry="8.2" fill="url(#fb)"/><ellipse cx="212" cy="705.6" rx="12.5" ry="8.2" fill="url(#fb)"/><ellipse cx="239.8" cy="705.6" rx="12.5" ry="8.2" fill="url(#fb)"/><ellipse cx="267.6" cy="705.6" rx="12.5" ry="8.2" fill="url(#fb)"/><ellipse cx="295.4" cy="705.6" rx="12.5" ry="8.2" fill="url(#fb)"/><ellipse cx="323.2" cy="705.6" rx="12.5" ry="8.2" fill="url(#fb)"/><ellipse cx="351" cy="705.6" rx="12.5" ry="8.2" fill="url(#fb)"/><ellipse cx="378.8" cy="705.6" rx="12.5" ry="8.2" fill="url(#fb)"/><ellipse cx="406.6" cy="705.6" rx="12.5" ry="8.2" fill="url(#fb)"/><ellipse cx="434.4" cy="705.6" rx="12.5" ry="8.2" fill="url(#fb)"/><ellipse cx="462.2" cy="705.6" rx="12.5" ry="8.2" fill="url(#fb)"/><ellipse cx="490" cy="705.6" rx="12.5" ry="8.2" fill="url(#fb)"/><ellipse cx="517.8" cy="705.6" rx="12.5" ry="8.2" fill="url(#fb)"/><ellipse cx="545.6" cy="705.6" rx="12.5" ry="8.2" fill="url(#fb)"/><ellipse cx="573.4" cy="705.6" rx="12.5" ry="8.2" fill="url(#fb)"/><ellipse cx="601.2" cy="705.6" rx="12.5" ry="8.2" fill="url(#fb)"/><ellipse cx="629" cy="705.6" rx="12.5" ry="8.2" fill="url(#fb)"/><ellipse cx="656.8" cy="705.6" rx="12.5" ry="8.2" fill="url(#fb)"/><ellipse cx="684.6" cy="705.6" rx="12.5" ry="8.2" fill="url(#fb)"/><ellipse cx="712.4" cy="705.6" rx="12.5" ry="8.2" fill="url(#fb)"/><ellipse cx="740.2" cy="705.6" rx="12.5" ry="8.2" fill="url(#fb)"/><ellipse cx="768" cy="705.6" rx="12.5" ry="8.2" fill="url(#fb)"/><ellipse cx="795.8" cy="705.6" rx="12.5" ry="8.2" fill="url(#fb)"/></g>
</defs>
<rect width="1080" height="759" fill="#000"/>
<rect x="23" y="23" width="1033" height="715" fill="#fff"/>

<g id="corneum" filter="url(#sb2)">
<path d="M59 360 C70.83 354.33 105.33 337.83 130 326 C154.67 314.17 190.67 296.5 207 289 C223.33 281.5 221.17 283.4 228 281 C234.83 278.6 239.83 276.1 248 274.6 C256.17 273.1 264 272.35 277 272 C290 271.65 313 271.58 326 272.5 C339 273.42 344.5 277.48 355 277.5 C365.5 277.52 376.83 272.43 389 272.6 C401.17 272.77 416.83 276.43 428 278.5 C439.17 280.57 448 284.85 456 285 C464 285.15 468.67 281.13 476 279.4 C483.33 277.67 489.33 274.83 500 274.6 C510.67 274.37 529.33 276.7 540 278 C550.67 279.3 556.67 281.23 564 282.4 C571.33 283.57 576.33 285.4 584 285 C591.67 284.6 600.5 281.08 610 280 C619.5 278.92 627.17 278.17 641 278.5 C654.83 278.83 679.83 280.58 693 282 C706.17 283.42 715.5 286.17 720 287 L720 300 L558 366 L59 366 Z" fill="#FCE7D4" stroke="#FBE2CC" stroke-width="1.5"/>
<path d="M208 291 C214.67 288.58 236.5 279.33 248 276.5 C259.5 273.67 264 274.33 277 274 C290 273.67 313.17 273.58 326 274.5 C338.83 275.42 353 275.42 354 279.5 C355 283.58 342.5 294.25 332 299 C321.5 303.75 305.67 308.17 291 308 C276.33 307.83 257.83 300.83 244 298 C230.17 295.17 214 292.17 208 291 Z" fill="#FDEBDB" stroke="#FADCC3" stroke-width="1.4" opacity="1"/>
<path d="M358 279.5 C363.17 278.68 377.33 274.43 389 274.6 C400.67 274.77 417 278.43 428 280.5 C439 282.57 454 284.92 455 287 C456 289.08 443.83 290.83 434 293 C424.17 295.17 408.33 298.33 396 300 C383.67 301.67 366.33 306.42 360 303 C353.67 299.58 358.33 283.42 358 279.5 Z" fill="#FDEBDB" stroke="#FADCC3" stroke-width="1.4" opacity="1"/>
<path d="M459 287 C461.83 286.07 469.17 283.13 476 281.4 C482.83 279.67 489.33 276.83 500 276.6 C510.67 276.37 529.33 278.7 540 280 C550.67 281.3 557 283.23 564 284.4 C571 285.57 582.67 284.4 582 287 C581.33 289.6 570.33 297.08 560 300 C549.67 302.92 533 305 520 304.5 C507 304 492.17 299.92 482 297 C471.83 294.08 462.83 288.67 459 287 Z" fill="#FDEBDB" stroke="#FADCC3" stroke-width="1.4" opacity="1"/>
<path d="M587 287 C590.83 286.17 601 283.08 610 282 C619 280.92 627.17 280.17 641 280.5 C654.83 280.83 680.17 282.58 693 284 C705.83 285.42 714.17 287.17 718 289 C721.83 290.83 722.33 293.33 716 295 C709.67 296.67 694.33 298.67 680 299 C665.67 299.33 645.5 299 630 297 C614.5 295 594.17 288.67 587 287 Z" fill="#FDEBDB" stroke="#FADCC3" stroke-width="1.4" opacity="1"/>
<path d="M110 352 C120 348.33 148.33 336 170 330 C191.67 324 218.33 319.17 240 316 C261.67 312.83 278.33 310.83 300 311 C321.67 311.17 346.67 313.17 370 317 C393.33 320.83 438.33 329.17 440 334 C441.67 338.83 403.33 343.5 380 346 C356.67 348.5 330 348 300 349 C270 350 231.67 351.5 200 352 C168.33 352.5 125 352 110 352 Z" fill="#FDF0E6" stroke="#FADEC6" stroke-width="1.4" opacity="1"/>
<path d="M352 338 C361.67 334.83 388.67 323.5 410 319 C431.33 314.5 456.67 311.83 480 311 C503.33 310.17 530 312.17 550 314 C570 315.83 600.33 317.33 600 322 C599.67 326.67 569.67 337.83 548 342 C526.33 346.17 494.67 346.33 470 347 C445.33 347.67 419.67 347.5 400 346 C380.33 344.5 360 339.33 352 338 Z" fill="#FDF0E6" stroke="#FADEC6" stroke-width="1.4" opacity="1"/>
<path d="M520 338 C528.33 335.33 551.67 326.83 570 322 C588.33 317.17 610 312.33 630 309 C650 305.67 675.17 303.83 690 302 C704.83 300.17 717.33 296.33 719 298 C720.67 299.67 716.5 306.33 700 312 C683.5 317.67 643.33 326.5 620 332 C596.67 337.5 576.67 344 560 345 C543.33 346 526.67 339.17 520 338 Z" fill="#FDF0E6" stroke="#FADEC6" stroke-width="1.4" opacity="1"/>
<path d="M59 356 H558 L720 290" fill="none" stroke="#FBE0C6" stroke-width="3.5" opacity="0.9"/>
</g>
<g filter="url(#sb)">
<use href="#skin" clip-path="url(#cf)"/>
<g clip-path="url(#cs)"><use href="#skin" transform="matrix(0.74750 -0.30647 0 1 140.895 171.013)"/></g>
</g>
<path d="M134.1 237.8 H158.7 V445 H170 L146.4 470 L121.7 445 H134.1 Z" fill="#00B050"/>
<path d="M328.4 237.8 H353.2 V595 H365 L340.8 619.3 L316.7 595 H328.4 Z" fill="#00B050"/>
<path d="M513.4 238.6 L542.3 267 H523.9 V457.3 H503.4 V267 H485.2 Z" fill="#FFC000"/>
<path d="M623.4 238.6 L651.8 267 H633.9 V607 H613.4 V267 H595.3 Z" fill="#FFC000"/>
<rect x="503.4" y="449" width="20.5" height="8.3" fill="#F5BA0C"/>
<rect x="613.4" y="599" width="20.5" height="8" fill="#F5BA0C"/>
<path d="M503.4 449.3 H523.9 M503.4 454.3 H523.9 M613.4 599.3 H633.9 M613.4 604.3 H633.9" stroke="#FFE07A" stroke-width="1" fill="none"/>
<circle cx="151.7" cy="490.7" r="2.6" fill="#F1F0F8" stroke="#A19CD2" stroke-width="1.1"/>
<circle cx="154.3" cy="506.5" r="4.8" fill="#F1F0F8" stroke="#A19CD2" stroke-width="1.1"/>
<circle cx="157.7" cy="527.5" r="7.6" fill="#F1F0F8" stroke="#A19CD2" stroke-width="1.1"/>
<path d="M90.6 565.6 A42 42 0 0 1 136.4 552.8 A32 32 0 0 1 171.6 550.4 A29.4 29.4 0 0 1 205 549.4 A27.8 27.8 0 0 1 244.4 556.5 A17 17 0 0 1 260.5 576 A16.6 16.6 0 1 1 241.3 605.4 A27 27 0 0 1 202.6 616.6 A39.8 39.8 0 0 1 143.5 622.7 A41 41 0 0 1 98.7 617.6 A22 22 0 0 1 77.3 599.3 A19.5 19.5 0 0 1 90.6 565.6 Z" fill="#ECECEE" stroke="#A19CD2" stroke-width="1.3" stroke-linejoin="round"/>
<path d="M90.6 565.6 Q95 568.6 100 568 M77.3 599.3 Q85 599.5 92.6 596.8 M241.3 605.4 Q231 600 225.5 591 M260.5 576 Q257 579 252.5 579.5 M143.5 622.7 Q148 621.5 151.5 618.5 M202.6 616.6 Q199 615 197 611.5 M98.7 617.6 Q103 620 108.5 620.3" fill="none" stroke="#A19CD2" stroke-width="1.2" stroke-linecap="round"/>
<text><tspan x="110.12" y="581.47" font-size="20.61" textLength="102.05" lengthAdjust="spacingAndGlyphs" font-weight="500" style="fill:#555">ラミニン5の</tspan><tspan x="110.06" y="606.41" font-size="19.89" textLength="104.62" lengthAdjust="spacingAndGlyphs" font-weight="500" style="fill:#555">生成促進中</tspan></text>
<rect x="62.9" y="292" width="176.4" height="124" fill="#E6E6E6" stroke="#6C6C6C" stroke-width="1.1"/>
<text><tspan x="73.35" y="313.01" font-size="14.49" textLength="16.63" lengthAdjust="spacingAndGlyphs" font-weight="700">➡</tspan><tspan x="90.86" y="313.91" font-size="16.86" textLength="137.13" lengthAdjust="spacingAndGlyphs" font-weight="700">基底膜タンパク質</tspan><tspan x="84.64" y="335.65" font-size="16.7" textLength="73.92" lengthAdjust="spacingAndGlyphs" font-weight="700">生成促進</tspan></text>
<text><tspan x="73.35" y="358.01" font-size="14.49" textLength="16.63" lengthAdjust="spacingAndGlyphs" font-weight="700">➡</tspan><tspan x="90.93" y="359.08" font-size="17.17" textLength="106.41" lengthAdjust="spacingAndGlyphs" font-weight="700">表皮と真皮の</tspan><tspan x="84.82" y="381.2" font-size="16.96" textLength="73.64" lengthAdjust="spacingAndGlyphs" font-weight="700">結合強化</tspan></text>
<text><tspan x="73.35" y="402.51" font-size="14.49" textLength="16.63" lengthAdjust="spacingAndGlyphs" font-weight="700">➡</tspan><tspan x="91.32" y="403.15" font-size="16.54" textLength="77.97" lengthAdjust="spacingAndGlyphs" font-weight="700">ハリ･弾力</tspan></text>
<rect x="238.9" y="450.5" width="219.5" height="76.3" fill="#E6E6E6" stroke="#6C6C6C" stroke-width="1.1"/>
<text><tspan x="249.66" y="471.21" font-size="14.49" textLength="16.52" lengthAdjust="spacingAndGlyphs" font-weight="700">➡</tspan><tspan x="267.53" y="472.64" font-size="17.63" textLength="179.2" lengthAdjust="spacingAndGlyphs" font-weight="700">細胞自己修復サポート</tspan></text>
<text><tspan x="249.66" y="493.51" font-size="14.49" textLength="16.52" lengthAdjust="spacingAndGlyphs" font-weight="700">➡</tspan><tspan x="267.54" y="495.02" font-size="17.72" textLength="123.66" lengthAdjust="spacingAndGlyphs" font-weight="700">抗酸化サポート</tspan></text>
<text><tspan x="249.66" y="515.71" font-size="14.49" textLength="16.52" lengthAdjust="spacingAndGlyphs" font-weight="700">➡</tspan><tspan x="267.54" y="517.22" font-size="17.72" textLength="123.66" lengthAdjust="spacingAndGlyphs" font-weight="700">抗糖化サポート</tspan></text>
<rect x="464.4" y="334.9" width="219" height="35" fill="#FFE699" stroke="#7A7466" stroke-width="1.1"/>
<text x="474.11" y="359.91" font-size="20.96" textLength="198.38" lengthAdjust="spacingAndGlyphs" font-weight="500">正常なターンオーバー</text>
<path d="M473 554.6 H536.3 L551.3 502 L566.5 554.6 H578.3 Q587.3 554.6 587.3 563.6 V615 Q587.3 624 578.3 624 H473 Q464 624 464 615 V563.6 Q464 554.6 473 554.6 Z" fill="#3DBBEF" stroke="#36A6D8" stroke-width="1.2" stroke-linejoin="round"/>
<text x="478.9" y="601.51" font-size="29.84" textLength="94.36" lengthAdjust="spacingAndGlyphs" style="fill:#23485C">基底膜</text>
<rect x="85.9" y="157.9" width="121.3" height="67.4" fill="#fff" stroke="#E48AD3" stroke-width="1.9"/>
<text><tspan x="115.05" y="184.95" font-size="21.09" textLength="62.08" lengthAdjust="spacingAndGlyphs" font-weight="500">オリゴ</tspan><tspan x="95.97" y="213.07" font-size="24.11" textLength="101.18" lengthAdjust="spacingAndGlyphs" font-weight="500">ペプチド-6</tspan></text>
<rect x="279.2" y="184.8" width="123" height="38" fill="#fff" stroke="#E48AD3" stroke-width="1.9"/>
<text x="286.82" y="212.68" font-size="23.11" textLength="104.13" lengthAdjust="spacingAndGlyphs" font-weight="500">カルノシン</text>
<rect x="462.2" y="178.8" width="102.8" height="51" fill="#fff" stroke="#C2A3EA" stroke-width="1.7"/>
<text x="494.52" y="205.39" font-size="21.27" textLength="38.15" lengthAdjust="spacingAndGlyphs">EGF</text>
<text x="466.28" y="222.15" font-size="9.48" textLength="94.63" lengthAdjust="spacingAndGlyphs" font-weight="700" style="fill:#333">（オリゴペプチド-1）</text>
<rect x="593.8" y="186.3" width="71.1" height="38.2" fill="#fff" stroke="#C2A3EA" stroke-width="1.7"/>
<text x="602.46" y="213.08" font-size="21.97" textLength="52.18" lengthAdjust="spacingAndGlyphs">IGF-2</text>
<text><tspan x="62.32" y="112.37" font-size="52.82" textLength="40.49" lengthAdjust="spacingAndGlyphs" font-weight="700">G</tspan><tspan x="101.62" y="112.5" font-size="52.81" textLength="37.37" lengthAdjust="spacingAndGlyphs" font-weight="700">F</tspan><tspan x="133.58" y="113.29" font-size="50.18" textLength="50.18" lengthAdjust="spacingAndGlyphs" font-weight="700">ア</tspan><tspan x="175.23" y="111.5" font-size="53.26" textLength="50.63" lengthAdjust="spacingAndGlyphs" font-weight="700">ド</tspan><tspan x="221.87" y="113.65" font-size="52.96" textLength="148.24" lengthAdjust="spacingAndGlyphs" font-weight="700">バンス</tspan><tspan x="368.07" y="113.38" font-size="49.8" textLength="26.71" lengthAdjust="spacingAndGlyphs" font-weight="700">+</tspan><tspan x="397.51" y="112.19" font-size="50.63" textLength="155.27" lengthAdjust="spacingAndGlyphs" font-weight="700">美容液</tspan><tspan x="556.68" y="113.03" font-size="53.45" textLength="138.56" lengthAdjust="spacingAndGlyphs" font-weight="700">による</tspan><tspan x="696.75" y="111.96" font-size="50.37" textLength="156.75" lengthAdjust="spacingAndGlyphs" font-weight="700">肌内部</tspan><tspan x="855.98" y="110.55" font-size="49.06" textLength="51.95" lengthAdjust="spacingAndGlyphs" font-weight="700">の</tspan><tspan x="911.13" y="111.83" font-size="50.21" textLength="101.79" lengthAdjust="spacingAndGlyphs" font-weight="700">変化</tspan></text>
<text x="768.87" y="283.26" font-size="20.43" textLength="63.76" lengthAdjust="spacingAndGlyphs" font-weight="500">皮膚層</text>
<text x="768.77" y="319.22" font-size="19.79" textLength="63.87" lengthAdjust="spacingAndGlyphs" font-weight="500">角質層</text>
<text x="768.57" y="349.09" font-size="20.11" textLength="64.07" lengthAdjust="spacingAndGlyphs" font-weight="500">顆粒層</text>
<text x="768.66" y="391.15" font-size="20.53" textLength="63.98" lengthAdjust="spacingAndGlyphs" font-weight="500">有棘層</text>
<text x="762.6" y="446.69" font-size="22.34" textLength="71.6" lengthAdjust="spacingAndGlyphs" font-weight="500">基底層</text>
<text x="743.58" y="484.41" font-size="21.31" textLength="107.42" lengthAdjust="spacingAndGlyphs" font-weight="500">コラーゲン</text>
<text x="745.21" y="513.98" font-size="22.26" textLength="105.76" lengthAdjust="spacingAndGlyphs" font-weight="500">エラスチン</text>
<text x="740.43" y="553.4" font-size="22.23" textLength="118.28" lengthAdjust="spacingAndGlyphs" font-weight="500">線維芽細胞</text>
<text x="745.81" y="592.12" font-size="22.96" textLength="47.56" lengthAdjust="spacingAndGlyphs" font-weight="500">基質</text>
<text x="742.93" y="639.2" font-size="22.23" textLength="94.2" lengthAdjust="spacingAndGlyphs" font-weight="500">皮下脂肪</text>
<text x="924.29" y="376.82" font-size="25.32" textLength="51.11" lengthAdjust="spacingAndGlyphs" font-weight="500">表皮</text>
<text x="923.5" y="550.71" font-size="24.36" textLength="51.91" lengthAdjust="spacingAndGlyphs" font-weight="500">真皮</text>
<text x="921.28" y="642.17" font-size="24.55" textLength="104.75" lengthAdjust="spacingAndGlyphs" font-weight="500">皮下組織</text>
<path d="M725.4 283.5 H741.4 V292.5 H725.4" fill="none" stroke="#625E5E" stroke-width="2.2"/>
<path d="M725.4 295.6 H741.4 V323.9 H725.4" fill="none" stroke="#625E5E" stroke-width="2.2"/>
<path d="M725.4 328.2 H741.4 V351.7 H725.4" fill="none" stroke="#625E5E" stroke-width="2.2"/>
<path d="M725.4 353.4 H741.4 V428.2 H725.4" fill="none" stroke="#625E5E" stroke-width="2.2"/>
<path d="M725.4 430.2 H741.4 V452.8 H725.4" fill="none" stroke="#625E5E" stroke-width="2.2"/>
<path d="M889.3 282.6 H906.4 V454.2 H889.3" fill="none" stroke="#827D7D" stroke-width="2.5"/>
<path d="M889.3 456.6 H906.4 V611.4 H889.3" fill="none" stroke="#827D7D" stroke-width="2.5"/>
<path d="M889.3 614.6 H906.4 V650 H889.3" fill="none" stroke="#827D7D" stroke-width="2.5"/>
<line x1="736.7" y1="483.4" x2="700" y2="494" stroke="#454545" stroke-width="1.8"/>
<line x1="736.7" y1="515.6" x2="662.5" y2="524.5" stroke="#454545" stroke-width="1.8"/>
<line x1="729.2" y1="550.4" x2="652.5" y2="557.5" stroke="#454545" stroke-width="1.8"/>
<line x1="735.4" y1="586.8" x2="675" y2="588" stroke="#454545" stroke-width="1.8"/>
<line x1="731.7" y1="635" x2="686.5" y2="638.5" stroke="#454545" stroke-width="1.8"/>
</svg>
</body>
</html>
